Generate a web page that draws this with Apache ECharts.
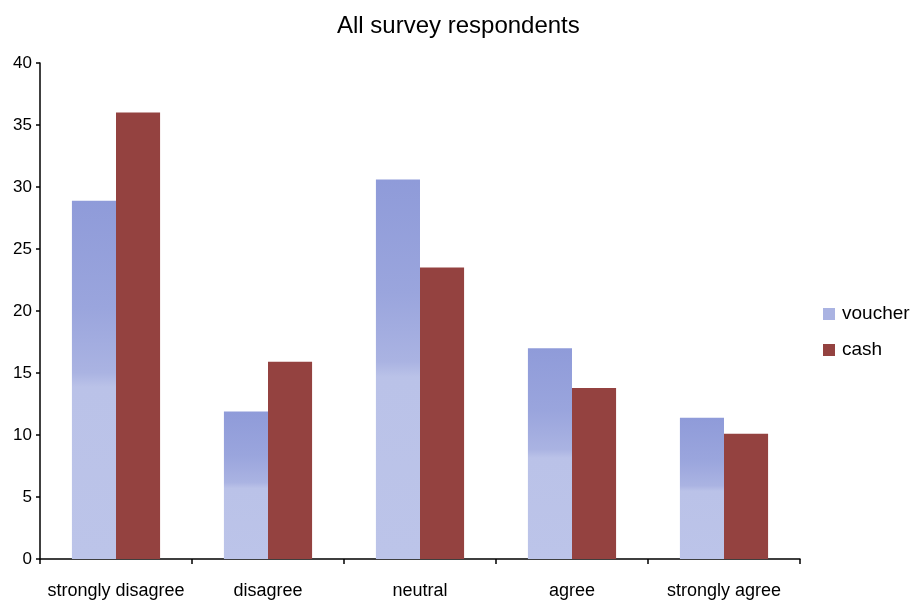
<!DOCTYPE html>
<html>
<head>
<meta charset="utf-8">
<script src="https://cdn.jsdelivr.net/npm/echarts@6/dist/echarts.min.js"></script>
<style>
  html, body { margin: 0; padding: 0; background: #fff; }
  #chart { width: 918px; height: 600px; }
</style>
</head>
<body>
<div id="chart"></div>
<script>
// Survey answers, counts per response option
const categories = ['strongly disagree', 'disagree', 'neutral', 'agree', 'strongly agree'];
const voucherValues = [28.9, 11.9, 30.6, 17.0, 11.4];
const cashValues = [36.0, 15.9, 23.5, 13.8, 10.1];
const yTicks = { min: 0, max: 40, interval: 5 };

const font = 'Liberation Sans, Arial, sans-serif';

// Voucher bars: darker stippled-looking top fading into a pale lower half
const voucherFill = new echarts.graphic.LinearGradient(0, 0, 0, 1, [
  { offset: 0, color: '#8f9bd9' },
  { offset: 0.3, color: '#9aa5dd' },
  { offset: 0.48, color: '#aab3e2' },
  { offset: 0.52, color: '#bac2e8' },
  { offset: 1, color: '#bcc4e9' }
]);

const chart = echarts.init(document.getElementById('chart'), null, { renderer: 'canvas' });

chart.setOption({
  animation: false,
  backgroundColor: '#ffffff',
  title: {
    text: 'All survey respondents',
    left: 337,
    top: 14,
    padding: 0,
    textStyle: { fontFamily: font, fontSize: 24, fontWeight: 'normal', color: '#000' }
  },
  legend: {
    orient: 'vertical',
    left: 823,
    top: 304,
    padding: 0,
    itemWidth: 12,
    itemHeight: 12,
    itemGap: 16,
    icon: 'rect',
    textStyle: { fontFamily: font, fontSize: 19, lineHeight: 20, color: '#000', padding: [0, 0, 0, 2] },
    data: [
      { name: 'voucher', itemStyle: { color: '#aab3e2' } },
      { name: 'cash' }
    ]
  },
  grid: { left: 40, right: 118, top: 63, bottom: 41 },
  xAxis: {
    type: 'category',
    data: categories,
    boundaryGap: true,
    axisLine: { lineStyle: { color: '#000', width: 1.5 } },
    axisTick: { show: true, length: 5, inside: false, lineStyle: { color: '#000', width: 1.5 } },
    axisLabel: { fontFamily: font, fontSize: 18, color: '#000', margin: 23, interval: 0 }
  },
  yAxis: {
    type: 'value',
    min: yTicks.min,
    max: yTicks.max,
    interval: yTicks.interval,
    splitLine: { show: false },
    axisLine: { show: true, lineStyle: { color: '#000', width: 1.5 } },
    axisTick: { show: true, length: 4, lineStyle: { color: '#000', width: 1.5 } },
    axisLabel: { fontFamily: font, fontSize: 17, color: '#000', margin: 8 }
  },
  series: [
    {
      name: 'voucher',
      type: 'bar',
      data: voucherValues,
      barGap: '0%',
      barCategoryGap: '42%',
      itemStyle: { color: voucherFill }
    },
    {
      name: 'cash',
      type: 'bar',
      data: cashValues,
      barGap: '0%',
      barCategoryGap: '42%',
      itemStyle: { color: '#944240' }
    }
  ]
});
</script>
</body>
</html>
